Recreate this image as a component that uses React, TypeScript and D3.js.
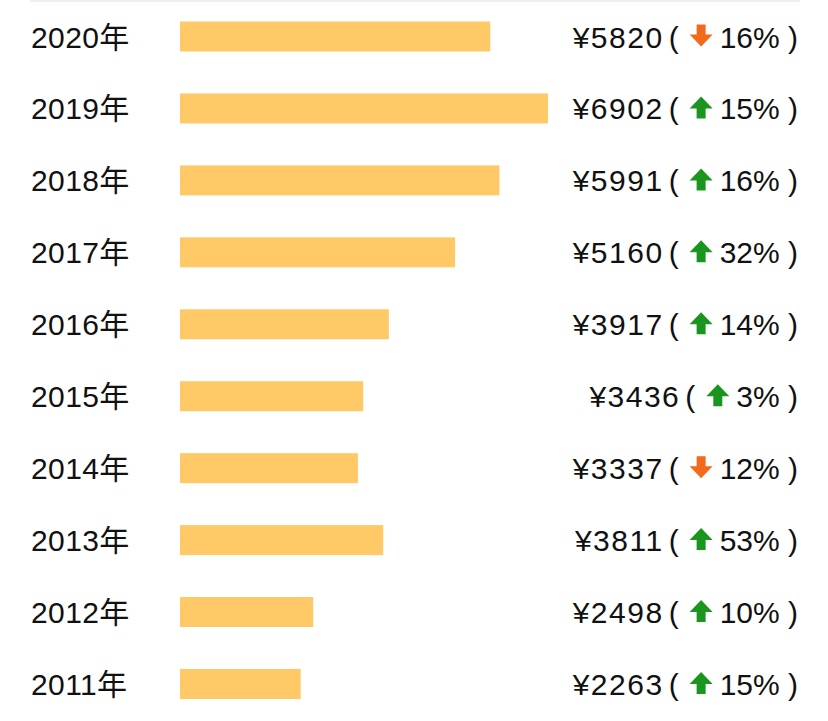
import * as d3 from "d3";
import { useEffect, useRef } from "react";

const years = ["2020年", "2019年", "2018年", "2017年", "2016年", "2015年", "2014年", "2013年", "2012年", "2011年"];
const amounts = [5820, 6902, 5991, 5160, 3917, 3436, 3337, 3811, 2498, 2263];
const changePct = [16, 15, 16, 32, 14, 3, 12, 53, 10, 15];
const directions = ["down", "up", "up", "up", "up", "up", "down", "up", "up", "up"];

const FONT = "'Liberation Sans', Arial, 'Noto Sans CJK SC', sans-serif";

export default function App() {
  const ref = useRef<SVGSVGElement>(null);

  useEffect(() => {
    if (!ref.current) return;
    const width = 828;
    const height = 721;

    const svg = d3.select(ref.current);
    svg.selectAll("*").remove();
    svg.attr("width", width).attr("height", height);

    const x = d3.scaleLinear().domain([0, 6902]).range([180, 548]);
    const y = d3.scalePoint<string>().domain(years).range([36.5, 684]);
    const barH = 30;

    // faint divider at the very top
    svg
      .append("line")
      .attr("x1", 30)
      .attr("x2", 800)
      .attr("y1", 1)
      .attr("y2", 1)
      .attr("stroke", "#efefef")
      .attr("stroke-width", 2);

    const rows = years.map((yr, i) => ({
      year: yr,
      value: amounts[i],
      pct: changePct[i],
      dir: directions[i],
    }));

    // bars
    svg
      .selectAll("rect.bar")
      .data(rows)
      .join("rect")
      .attr("class", "bar")
      .attr("x", x(0))
      .attr("y", (d) => y(d.year)! - barH / 2)
      .attr("width", (d) => x(d.value) - x(0))
      .attr("height", barH)
      .attr("fill", "#fec966");

    // year labels
    svg
      .selectAll("text.year")
      .data(rows)
      .join("text")
      .attr("class", "year")
      .attr("x", 31)
      .attr("y", (d) => y(d.year)! + 11)
      .style("font-family", FONT)
      .style("font-size", "30px")
      .style("letter-spacing", "0.4px")
      .attr("fill", "#111")
      .text((d) => d.year);

    const addText = (tx: number, ty: number, s: string, spacing = 0) =>
      svg
        .append("text")
        .attr("x", tx)
        .attr("y", ty)
        .attr("text-anchor", "end")
        .style("font-family", FONT)
        .style("font-size", "30px")
        .style("letter-spacing", `${spacing}px`)
        .attr("fill", "#111")
        .text(s);

    // value + change labels, right aligned
    const right = 798;
    rows.forEach((d) => {
      const cy = y(d.year)!;
      const base = cy + 11;
      const suffix = addText(right, base, `${d.pct}% )`);
      const w = (suffix.node() as SVGTextElement).getComputedTextLength();
      const aw = 23;
      const ah = 22;
      const arrowRight = right - w - 7;
      const ax = arrowRight - aw / 2;
      const top = cy - 1 - ah / 2;
      const shaft = 9;
      const headH = 12;
      const up = d.dir === "up";
      const pts = up
        ? [
            [ax, top],
            [ax + aw / 2, top + headH],
            [ax + shaft / 2, top + headH],
            [ax + shaft / 2, top + ah],
            [ax - shaft / 2, top + ah],
            [ax - shaft / 2, top + headH],
            [ax - aw / 2, top + headH],
          ]
        : [
            [ax, top + ah],
            [ax + aw / 2, top + ah - headH],
            [ax + shaft / 2, top + ah - headH],
            [ax + shaft / 2, top],
            [ax - shaft / 2, top],
            [ax - shaft / 2, top + ah - headH],
            [ax - aw / 2, top + ah - headH],
          ];
      svg
        .append("path")
        .attr("d", d3.line()(pts as [number, number][]) + "Z")
        .attr("fill", up ? "#1a961e" : "#f26a1b");

      const parenEnd = arrowRight - aw - 11;
      addText(parenEnd, base, "(");
      addText(parenEnd - 15, base, `¥${d.value}`, 1.5);
    });
  }, []);

  return (
    <svg
      ref={ref}
      style={{ position: "absolute", left: 0, top: 0, background: "#fff", display: "block" }}
    />
  );
}
